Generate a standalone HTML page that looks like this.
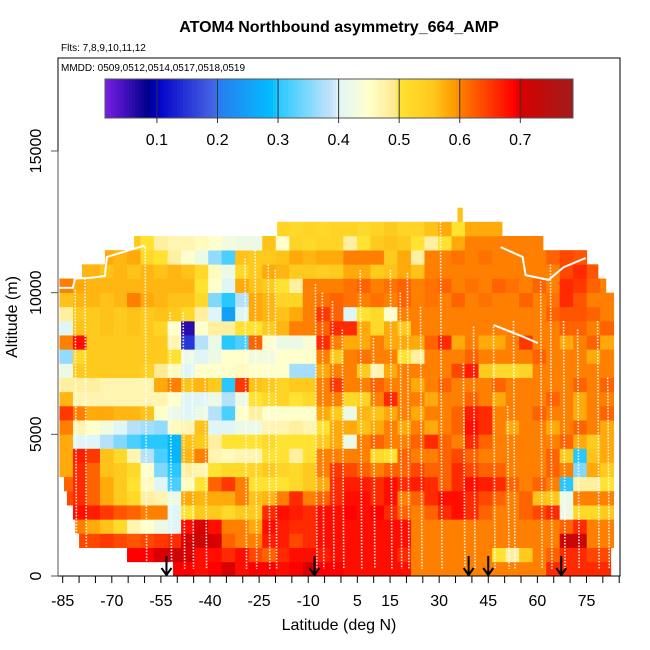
<!DOCTYPE html>
<html><head><meta charset="utf-8"><style>
html,body{margin:0;padding:0;background:#fff;}
svg{display:block;font-family:"Liberation Sans",Arial,sans-serif;}
</style></head><body>
<svg id="chart" width="650" height="650" viewBox="0 0 650 650">
<rect x="0" y="0" width="650" height="650" fill="#fff"/>
<g id="cells"></g>
<g id="tracks"></g>
<g id="arrows"></g>
<rect x="58" y="58" width="562" height="518" fill="none" stroke="#000" stroke-width="1"/>
<g id="cbar"></g>
<g id="axes"></g>
<text x="339" y="32" text-anchor="middle" font-size="16" font-weight="bold">ATOM4 Northbound asymmetry_664_AMP</text>
<text x="61" y="51" font-size="10">Flts: 7,8,9,10,11,12</text>
<text x="61" y="71" font-size="10">MMDD: 0509,0512,0514,0517,0518,0519</text>
<text x="339" y="630" text-anchor="middle" font-size="16">Latitude (deg N)</text>
<text x="0" y="0" transform="translate(17,317) rotate(-90)" text-anchor="middle" font-size="16">Altitude (m)</text>
</svg>
<script>
const binLat0 = -86, binWidth = 4.13, altBin = 500;
const rowStart = [-51.3,-65.7,-80,-81.2,-82.2,-83.7,-84.6,-86,-86,-86,-86,-86,-86,-86,-86,-86,-86,-86,-86,-86,-86,-79.1,-72.1,-63.2,-19.5,35.6];
const rowEnd = [82.4,82.4,83.3,83.3,83.3,83.3,83.3,83.3,83.3,83.3,83.3,83.3,83.3,83.3,83.3,83.3,83.3,83.3,83.3,83.3,80.9,78.5,75.2,61.7,49.2,37.1];
const N = null;
const row0 = [N,N,N,N,N,N,N,N,.69,.69,.68,.69,.7,.68,.69,.69,.68,.69,.7,.69,.69,.68,.68,.68,.68,.68,.6,.6,.6,.6,.6,.6,.6,.6,.6,.6,.66,.66,.66,.66,.66];
const row1 = [N,N,N,N,N,.69,.69,.7,.72,.7,.68,.68,.66,.68,.64,.62,.66,.68,.68,.67,.68,.68,.68,.68,.68,.66,.6,.6,.6,.6,.6,.6,.5,.48,.55,.6,.62,.66,.66,.64,.64];
const row2 = [N,.64,.64,.65,.64,.63,.64,.65,.66,.7,.72,.7,.62,.6,.6,.67,.67,.64,.66,.68,.68,.68,.68,.68,.68,.68,.6,.6,.6,.6,.6,.6,.6,.6,.6,.6,.6,.72,.72,.6,.6];
const row3 = [N,.6,.58,.56,.52,.47,.45,.42,.4,.68,.7,.68,.6,.6,.58,.68,.67,.66,.66,.68,.68,.68,.68,.68,.68,.68,.6,.6,.6,.6,.6,.6,.6,.6,.6,.6,.6,.62,.66,.6,.6];
const row4 = [N,.68,.67,.65,.63,.62,.6,.6,.4,.5,.55,.55,.52,.55,.55,.66,.68,.67,.66,.68,.68,.69,.68,.69,.66,.62,.6,.62,.66,.68,.66,.62,.6,.6,.62,.64,.66,.42,.52,.52,.55];
const row5 = [.64,.66,.62,.58,.55,.52,.48,.47,.42,.58,.57,.58,.58,.6,.56,.57,.6,.66,.6,.62,.66,.68,.68,.66,.68,.6,.62,.66,.68,.68,.66,.64,.62,.6,.62,.56,.55,.42,.6,.6,.6];
const row6 = [.62,.66,.62,.58,.55,.5,.46,.4,.32,.46,.5,.62,.65,.6,.5,.5,.5,.52,.55,.58,.66,.67,.67,.66,.68,.66,.67,.66,.62,.66,.68,.67,.66,.62,.6,.62,.6,.3,.48,.48,.5];
const row7 = [.58,.66,.62,.56,.55,.52,.45,.35,.3,.48,.47,.5,.52,.52,.53,.55,.53,.52,.55,.6,.65,.64,.62,.6,.62,.62,.64,.62,.62,.66,.64,.62,.62,.6,.6,.6,.62,.6,.35,.58,.55];
const row8 = [.58,.67,.65,.56,.52,.47,.38,.32,.28,.57,.6,.47,.46,.47,.47,.5,.5,.48,.5,.6,.6,.6,.6,.52,.5,.62,.6,.6,.62,.64,.62,.6,.6,.6,.6,.6,.62,.55,.3,.56,.58];
const row9 = [.58,.4,.4,.38,.35,.32,.3,.3,.28,.56,.55,.48,.5,.5,.5,.52,.5,.5,.5,.55,.58,.42,.6,.62,.6,.6,.62,.66,.62,.6,.66,.62,.6,.6,.6,.6,.6,.62,.58,.55,.58];
const row10 = [.6,.47,.45,.43,.4,.38,.37,.36,.46,.47,.56,.4,.4,.42,.42,.47,.47,.48,.47,.5,.58,.58,.56,.58,.6,.58,.6,.58,.6,.62,.68,.66,.6,.58,.6,.6,.58,.6,.62,.6,.58];
const row11 = [.65,.6,.58,.58,.57,.57,.56,.45,.42,.4,.42,.38,.32,.45,.48,.45,.45,.45,.45,.58,.55,.42,.57,.56,.58,.6,.58,.6,.6,.62,.67,.66,.6,.6,.6,.62,.6,.6,.58,.6,.62];
const row12 = [.57,.47,.47,.47,.47,.47,.47,.47,.45,.4,.4,.42,.38,.42,.5,.52,.53,.5,.52,.6,.6,.52,.53,.6,.66,.6,.6,.58,.6,.6,.62,.6,.58,.6,.6,.6,.62,.6,.58,.6,.6];
const row13 = [.48,.48,.48,.47,.47,.47,.47,.58,.6,.56,.57,.55,.3,.65,.56,.55,.53,.55,.55,.6,.65,.6,.6,.62,.6,.6,.58,.6,.62,.6,.6,.6,.62,.6,.6,.6,.6,.6,.62,.6,.62];
const row14 = [.42,.55,.55,.55,.55,.55,.54,.49,.46,.4,.45,.45,.45,.46,.45,.45,.45,.37,.37,.58,.6,.6,.55,.47,.58,.6,.6,.6,.6,.64,.67,.55,.52,.52,.53,.6,.6,.6,.6,.6,.6];
const row15 = [.36,.52,.55,.55,.55,.55,.55,.55,.5,.42,.4,.42,.45,.45,.43,.43,.45,.45,.45,.6,.55,.6,.61,.6,.6,.5,.48,.6,.6,.6,.62,.6,.6,.6,.6,.62,.6,.6,.6,.58,.6];
const row16 = [.6,.68,.55,.55,.55,.55,.55,.55,.47,.15,.38,.42,.3,.32,.62,.45,.42,.42,.44,.66,.6,.58,.58,.6,.58,.58,.58,.62,.66,.58,.6,.58,.58,.6,.65,.6,.6,.58,.6,.62,.58];
const row17 = [.4,.56,.55,.56,.55,.56,.55,.53,.45,.06,.45,.48,.48,.5,.5,.55,.57,.6,.6,.62,.66,.66,.58,.52,.58,.55,.6,.6,.6,.6,.6,.6,.6,.6,.6,.6,.6,.62,.62,.6,.62];
const row18 = [.48,.55,.55,.56,.55,.56,.55,.56,.55,.52,.48,.4,.25,.4,.58,.57,.56,.58,.6,.65,.62,.4,.5,.52,.45,.6,.6,.6,.6,.6,.6,.6,.6,.6,.6,.6,.62,.63,.63,.62,.6];
const row19 = [.56,.57,.57,.56,.57,.6,.58,.57,.56,.56,.52,.35,.3,.38,.58,.57,.53,.53,.6,.61,.62,.61,.6,.61,.6,.62,.6,.61,.6,.62,.6,.61,.6,.6,.62,.6,.61,.66,.63,.6,.6];
const row20 = [.6,.58,.57,.57,.57,.57,.57,.57,.57,.57,.5,.45,.4,.58,.56,.55,.5,.48,.6,.6,.6,.61,.62,.6,.61,.62,.6,.61,.62,.6,.61,.6,.62,.61,.6,.62,.6,.66,.65,.62,.6];
const row21 = [N,.57,.57,.56,.57,.56,.57,.56,.57,.56,.52,.46,.42,.52,.55,.58,.57,.55,.55,.54,.55,.58,.58,.55,.56,.58,.56,.6,.6,.6,.6,.6,.6,.6,.6,.6,.6,.64,.66,.63,N];
const row22 = [N,N,N,.58,.57,.58,.52,.5,.48,.45,.42,.36,.32,.56,.55,.55,.56,.58,.57,.58,.58,.6,.6,.6,.55,.58,.48,.6,.6,.61,.6,.61,.6,.6,.6,.6,.62,.64,.63,N,N];
const row23 = [N,N,N,N,N,.55,.5,.48,.47,.47,.46,.45,.43,.42,.42,.56,.45,.53,.52,.53,.53,.48,.5,.55,.56,.55,.5,.48,.5,.58,.6,.6,.6,.6,.6,.6,N,N,N,N,N];
const row24 = [N,N,N,N,N,N,N,N,N,N,N,N,N,N,N,N,.53,.52,.53,.52,.53,.53,.52,.53,.55,.53,.53,.56,.58,.5,.58,.58,.58,N,N,N,N,N,N,N,N];
const row25 = [N,N,N,N,N,N,N,N,N,N,N,N,N,N,N,N,N,N,N,N,N,N,N,N,N,N,N,N,N,.56,N,N,N,N,N,N,N,N,N,N,N];
const rows = [row0,row1,row2,row3,row4,row5,row6,row7,row8,row9,row10,row11,row12,row13,row14,row15,row16,row17,row18,row19,row20,row21,row22,row23,row24,row25];

const xTickLabels = [-85,-70,-55,-40,-25,-10,5,15,30,45,60,75];
const yTickLabels = [0,5000,10000,15000];
const cbarTickLabels = [0.1,0.2,0.3,0.4,0.5,0.6,0.7];
const arrowLats = [-53.3,-8.1,39.0,45.0,67.3];
const profileLeftLat = [-86.4,-81.9,-81.2,-76.7,-72.1,-71.5,-60.4,-59.8];
const profileLeftAlt = [10170,10170,10500,10520,10590,11260,11650,11600];
const profileRightLat = [48.8,55.5,56.4,63.4,68,74.7];
const profileRightAlt = [11610,11260,10620,10450,10900,11220];
const profileMidLat = [46.6,55.8,60.1];
const profileMidAlt = [8860,8440,8220];
const trackLats = [-81.2,-78.2,-59.8,-52.2,-48.2,-45.5,-41.5,-29.3,-26.2,-22.2,-20.1,-7.8,-5.7,-2.6,0.4,5.9,9.9,15.1,18.1,20.3,24.3,30.4,37.4,40.5,46.6,50.9,52.7,61,64,68,72.3,78.4,81.5];
const trackTops = [10100,10500,11600,9300,9300,7900,7000,11200,11500,11000,10800,10300,10000,9700,8700,10800,8400,10800,10000,10700,9500,12600,7500,8800,8800,6000,9000,10400,11000,9000,8700,9000,7000];

const X0 = 62.7, PXDEG = 3.2736, Y0 = 576, PXALT = 0.028333;
function xs(lat){ return X0 + (lat + 85) * PXDEG; }
function ys(alt){ return Y0 - alt * PXALT; }
const cbMin = 0.0143, cbMax = 0.787, CB_X0 = 105, CB_X1 = 573;
function cbx(v){ return CB_X0 + (v - cbMin) / (cbMax - cbMin) * (CB_X1 - CB_X0); }

const stops = [
 [0.014,[122,31,230]],[0.085,[0,0,140]],[0.1,[0,0,200]],[0.19,[70,96,228]],[0.2,[42,122,240]],
 [0.29,[0,190,255]],[0.3,[40,200,255]],[0.39,[200,228,250]],[0.4,[224,246,246]],[0.45,[255,255,204]],
 [0.495,[255,232,140]],[0.5,[255,226,50]],[0.555,[255,200,28]],[0.595,[255,150,0]],[0.6,[255,127,0]],[0.69,[255,0,0]],
 [0.7,[216,0,0]],[0.787,[160,28,28]]];
function color(v){
  if (v <= stops[0][0]) return 'rgb(' + stops[0][1].join(',') + ')';
  for (let k = 1; k < stops.length; k++){
    if (v <= stops[k][0]){
      const a = stops[k-1], b = stops[k], t = (v - a[0]) / (b[0] - a[0]);
      const c = a[1].map((q, j) => Math.round(q + (b[1][j] - q) * t));
      return 'rgb(' + c.join(',') + ')';
    }
  }
  return 'rgb(' + stops[stops.length-1][1].join(',') + ')';
}
const NS = 'http://www.w3.org/2000/svg';
function mk(tag, attrs, parent){
  const e = document.createElementNS(NS, tag);
  for (const k in attrs) e.setAttribute(k, attrs[k]);
  parent.appendChild(e);
  return e;
}

const gc = document.getElementById('cells');
rows.forEach((vals, r) => {
  vals.forEach((v, i) => {
    if (v === null) return;
    const l0 = Math.max(binLat0 + i * binWidth, rowStart[r]);
    const l1 = Math.min(binLat0 + (i + 1) * binWidth, rowEnd[r]);
    if (l1 <= l0) return;
    const x0 = xs(l0), x1 = xs(l1), y1 = ys(r * altBin), y0 = ys((r + 1) * altBin);
    const rc = mk('rect', {x: x0.toFixed(2), y: y0.toFixed(2), width: (x1 - x0 + 0.4).toFixed(2), height: (y1 - y0 + 0.3).toFixed(2), fill: color(v)}, gc);
    
    
  });
});

const gt = document.getElementById('tracks');
trackLats.forEach((lat, k) => {
  const ln = mk('line', {x1: xs(lat), x2: xs(lat) + 1.5, y1: ys(trackTops[k]), y2: ys(250), stroke: '#fff', 'stroke-width': 1.6, 'stroke-dasharray': '1.5 1.5', opacity: 0.9}, gt);
  
  
});
[[profileLeftLat, profileLeftAlt], [profileRightLat, profileRightAlt], [profileMidLat, profileMidAlt]].forEach(p => {
  const pts = p[0].map((lat, k) => xs(lat).toFixed(1) + ',' + ys(p[1][k]).toFixed(1)).join(' ');
  const pl = mk('polyline', {points: pts, fill: 'none', stroke: '#fff', 'stroke-width': 2}, gt);
  
  
});

const ga = document.getElementById('arrows');
arrowLats.forEach(lat => {
  const x = xs(lat);
  const a = mk('path', {d: 'M' + x + ',556 L' + x + ',575 M' + (x - 5) + ',568 L' + x + ',575 L' + (x + 5) + ',568', stroke: '#000', 'stroke-width': 2, fill: 'none'}, ga);
  
  
});

const gb = document.getElementById('cbar');
for (let k = 0; k < 156; k++){
  const v0 = cbMin + (cbMax - cbMin) * k / 156, v1 = cbMin + (cbMax - cbMin) * (k + 1) / 156;
  const r = mk('rect', {x: cbx(v0), y: 79, width: cbx(v1) - cbx(v0) + 0.5, height: 39, fill: color((v0 + v1) / 2)}, gb);
  
  
}
const cbBox = mk('rect', {x: CB_X0, y: 79, width: CB_X1 - CB_X0, height: 39, fill: 'none', stroke: '#555', 'stroke-width': 1}, gb);


cbarTickLabels.forEach(v => {
  const x = cbx(v);
  const d = mk('line', {x1: x, x2: x, y1: 79, y2: 123, stroke: '#333', 'stroke-width': 1}, gb);
  
  
  const t = mk('text', {x: x, y: 145, 'text-anchor': 'middle', 'font-size': 16}, gb);
  t.textContent = v.toFixed(1);
  
  
});

const gx = document.getElementById('axes');
mk('line', {x1: 58, x2: 620, y1: 576, y2: 576, stroke: '#000'}, gx);
for (let lat = -85; lat <= 85; lat += 5){
  const tk = mk('line', {x1: xs(lat), x2: xs(lat), y1: 576, y2: 583, stroke: '#000'}, gx);
  
  
}
xTickLabels.forEach(lat => {
  const t = mk('text', {x: xs(lat), y: 606, 'text-anchor': 'middle', 'font-size': 16}, gx);
  t.textContent = lat;
  
  
});
mk('line', {x1: 58, x2: 58, y1: ys(15000), y2: 576, stroke: '#555'}, gx);
yTickLabels.forEach(a => {
  const tk = mk('line', {x1: 51, x2: 58, y1: ys(a), y2: ys(a), stroke: '#555'}, gx);
  
  
  const t = mk('text', {x: 0, y: 0, transform: 'translate(41,' + ys(a) + ') rotate(-90)', 'text-anchor': 'middle', 'font-size': 16}, gx);
  t.textContent = a;
  
  
});
</script>
</body></html>
